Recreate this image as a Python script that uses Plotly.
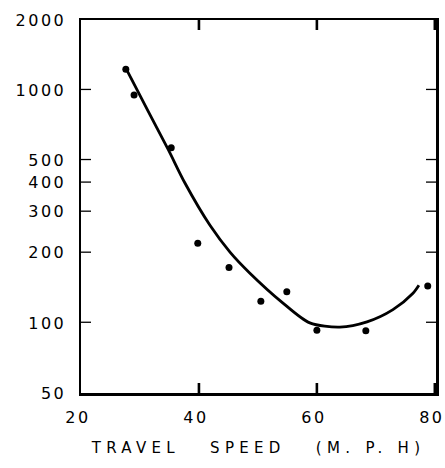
import plotly.graph_objects as go

# Observed points: travel speed (mph) vs. value on a log scale
speed_obs = [27.6, 29.0, 35.3, 39.8, 45.1, 50.5, 54.9, 60.0, 68.3, 78.8]
value_obs = [1230, 952, 565, 220, 173, 124, 136, 93, 92.5, 144]

# Fitted curve through the observations
speed_fit = [27.6, 31.4, 34.8, 37.6, 41.9, 45.3, 48.6, 54.2, 58.8, 63.9, 68.5, 72.9, 76.3, 77.3]
value_fit = [1242, 810, 555, 400, 262, 201, 164, 122, 100, 96, 101, 114, 134, 145]

x_ticks = [20, 40, 60, 80]
y_ticks = [50, 100, 200, 300, 400, 500, 1000, 2000]

x_range = [20, 80.2]
y_range = [50, 2000]

FONT = "DejaVu Sans"
TICK_LEN = 10    # inward tick length in pixels
TICK_HALF = 1.3  # half of the tick thickness in pixels

fig = go.Figure()
fig.add_trace(go.Scatter(
    x=speed_fit, y=value_fit, mode="lines",
    line=dict(color="black", width=2.8, shape="spline", smoothing=0.8),
    hoverinfo="skip", showlegend=False,
))
fig.add_trace(go.Scatter(
    x=speed_obs, y=value_obs, mode="markers",
    marker=dict(color="black", size=7),
    showlegend=False,
))

# Inward tick marks on all four sides, drawn as small filled bars
bar = dict(type="rect", fillcolor="black", line=dict(width=0), layer="above")
for v in x_ticks:
    if x_range[0] < v < x_range[1]:
        for edge, sign in ((0, 1), (1, -1)):
            fig.add_shape(xref="x", xsizemode="pixel", xanchor=v,
                          x0=-TICK_HALF, x1=TICK_HALF,
                          yref="paper", ysizemode="pixel", yanchor=edge,
                          y0=0, y1=sign * TICK_LEN, **bar)
for v in y_ticks:
    if y_range[0] < v < y_range[1]:
        for edge, sign in ((0, 1), (1, -1)):
            fig.add_shape(yref="y", ysizemode="pixel", yanchor=v,
                          y0=-TICK_HALF, y1=TICK_HALF,
                          xref="paper", xsizemode="pixel", xanchor=edge,
                          x0=0, x1=sign * TICK_LEN, **bar)

axis_common = dict(
    showgrid=False, zeroline=False,
    showline=True, linecolor="black", linewidth=2.5, mirror=True,
    ticks="",
    tickfont=dict(family=FONT, size=16, color="black"),
)

fig.update_layout(
    template="none",
    width=445, height=468,
    margin=dict(l=81, r=9, t=20, b=75),
    paper_bgcolor="white", plot_bgcolor="white",
    xaxis=dict(
        range=x_range, tickvals=x_ticks, ticktext=[str(v) for v in x_ticks],
        ticklabelstandoff=8, ticklabelshift=-3,
        title=dict(text="\u00a0TRAVEL\u00a0\u00a0\u00a0SPEED\u00a0\u00a0\u00a0(M.\u00a0P.\u00a0H)",
                   font=dict(family=FONT, size=15, color="black"), standoff=17),
        **axis_common,
    ),
    yaxis=dict(
        type="log", range=[1.69897, 3.30103],
        tickvals=y_ticks, ticktext=[str(v) for v in y_ticks],
        ticklabelstandoff=9,
        **axis_common,
    ),
)

# Wide, drafting-style letter spacing for the axis lettering
spacing_js = """
document.querySelectorAll('.xtick text, .ytick text').forEach(function(t){t.style.letterSpacing='2.5px';});
document.querySelectorAll('.g-xtitle text').forEach(function(t){t.style.letterSpacing='5.3px';});
"""

fig.write_html("out.html", post_script=spacing_js, config={"staticPlot": True})
